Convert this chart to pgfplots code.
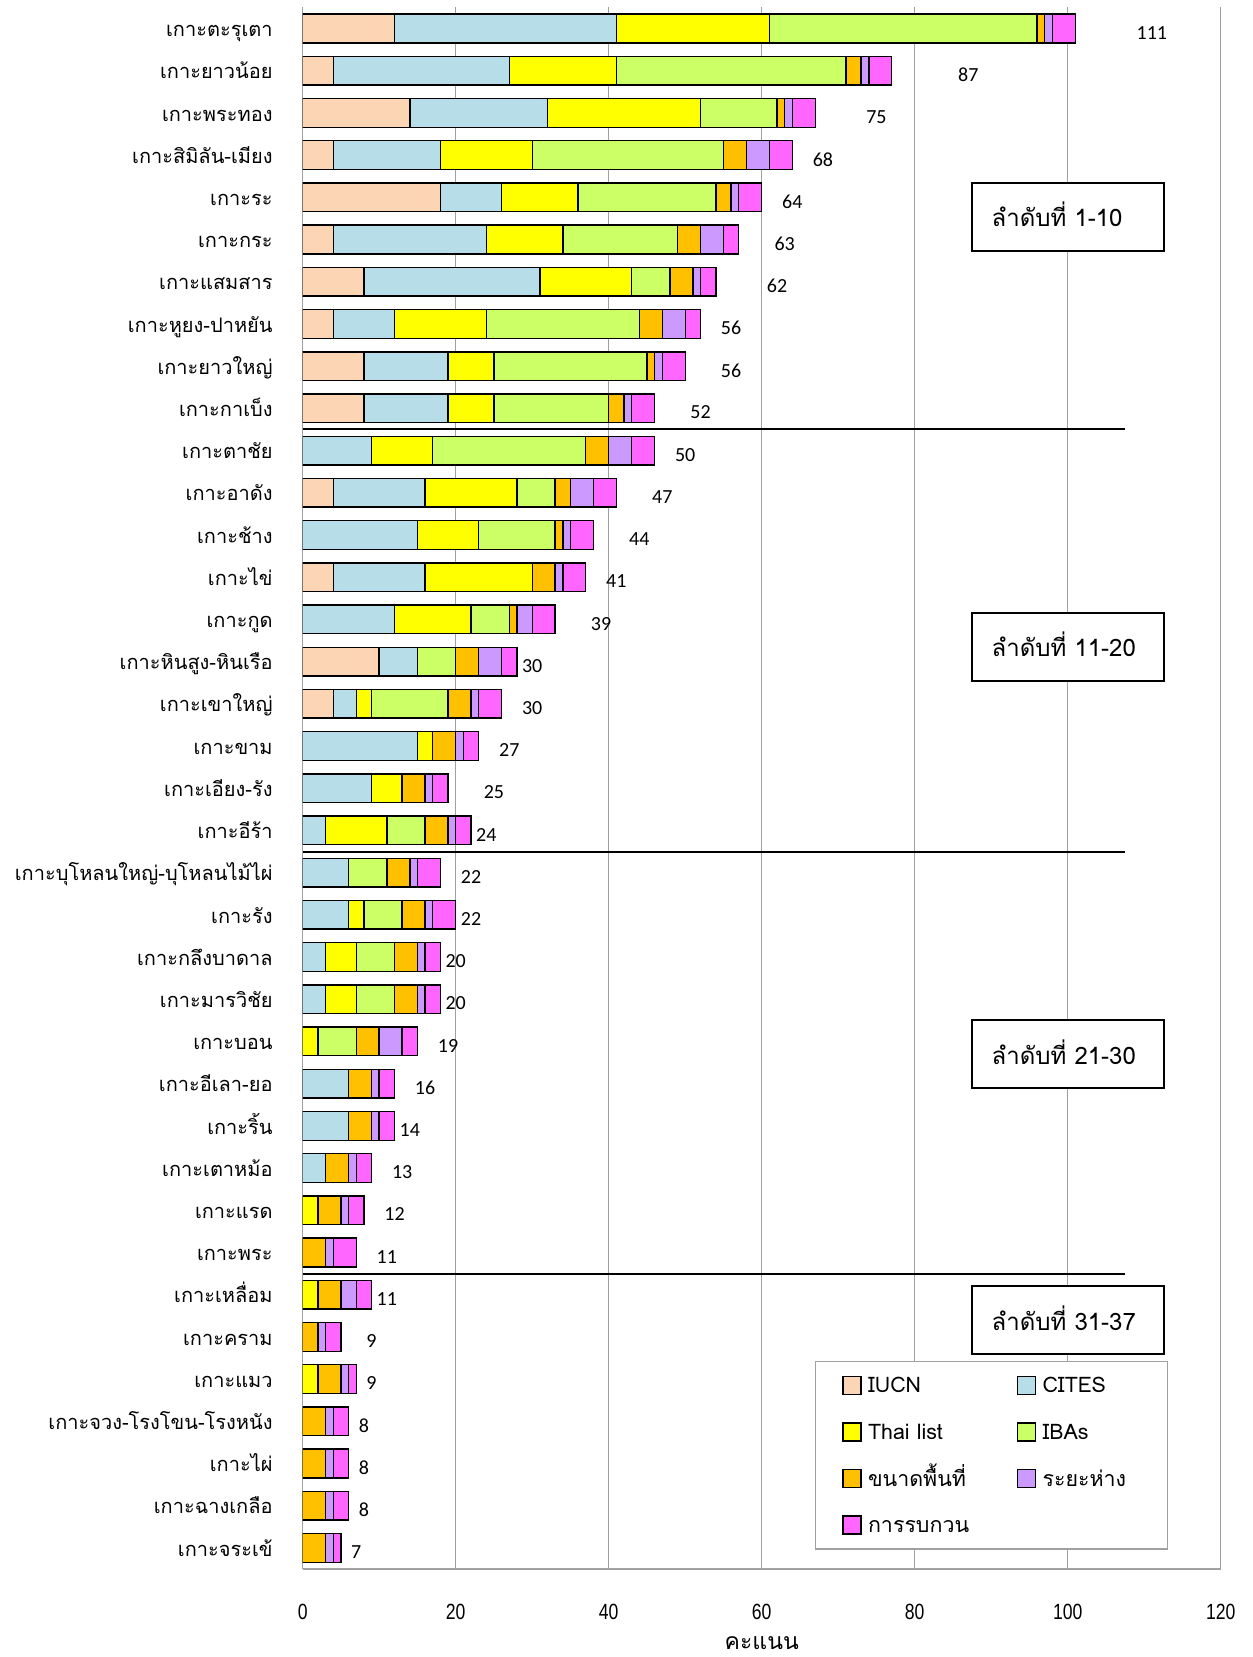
\documentclass[border=0pt]{standalone}
\usepackage{fontspec}
\setmainfont{Loma}[Script=Thai]
\newfontfamily\labfont{Carlito}
\newfontfamily\tickfont[FakeStretch=0.8]{Liberation Sans}
\usepackage{pgfplots}
\pgfplotsset{compat=1.18}
\usepackage{pgfplotstable}
\definecolor{cIUCN}{HTML}{FCD5B5}
\definecolor{cCITES}{HTML}{B7DEE8}
\definecolor{cThai}{HTML}{FFFF00}
\definecolor{cIBA}{HTML}{CCFF66}
\definecolor{cSize}{HTML}{FFC000}
\definecolor{cDist}{HTML}{CC99FF}
\definecolor{cDis}{HTML}{FF66FF}
\definecolor{gridc}{HTML}{A0A0A0}

\pgfplotstableread{
idx a b c d e f g lab
0 12 29 20 35 1 1 3 111
1 4 23 14 30 2 1 3 87
2 14 18 20 10 1 1 3 75
3 4 14 12 25 3 3 3 68
4 18 8 10 18 2 1 3 64
5 4 20 10 15 3 3 2 63
6 8 23 12 5 3 1 2 62
7 4 8 12 20 3 3 2 56
8 8 11 6 20 1 1 3 56
9 8 11 6 15 2 1 3 52
10 0 9 8 20 3 3 3 50
11 4 12 12 5 2 3 3 47
12 0 15 8 10 1 1 3 44
13 4 12 14 0 3 1 3 41
14 0 12 10 5 1 2 3 39
15 10 5 0 5 3 3 2 30
16 4 3 2 10 3 1 3 30
17 0 15 2 0 3 1 2 27
18 0 9 4 0 3 1 2 25
19 0 3 8 5 3 1 2 24
20 0 6 0 5 3 1 3 22
21 0 6 2 5 3 1 3 22
22 0 3 4 5 3 1 2 20
23 0 3 4 5 3 1 2 20
24 0 0 2 5 3 3 2 19
25 0 6 0 0 3 1 2 16
26 0 6 0 0 3 1 2 14
27 0 3 0 0 3 1 2 13
28 0 0 2 0 3 1 2 12
29 0 0 0 0 3 1 3 11
30 0 0 2 0 3 2 2 11
31 0 0 0 0 2 1 2 9
32 0 0 2 0 3 1 1 9
33 0 0 0 0 3 1 2 8
34 0 0 0 0 3 1 2 8
35 0 0 0 0 3 1 2 8
36 0 0 0 0 3 1 1 7
}\datatable

\begin{document}
\begin{tikzpicture}
\pgfplotsset{common/.style={scale only axis, width=459pt, height=780.8pt,
  xmin=0, xmax=120, ymin=-0.5, ymax=36.5, y dir=reverse}}
\begin{axis}[common, name=main,
  xbar stacked, bar width=14.35pt,
  axis x line*=bottom, axis y line*=left,
  axis line style={gridc, line width=0.65pt},
  xmajorgrids, grid style={gridc, line width=0.65pt},
  major tick length=0pt,
  xtick={0,20,...,120}, xticklabels={0,20,40,60,80,100,120},
  xticklabel style={font=\tickfont\fontsize{11}{13}\selectfont, anchor=center, yshift=-21.3pt},
  ytick={0,...,36},
  yticklabels={เกาะตะรุเตา,เกาะยาวน้อย,เกาะพระทอง,เกาะสิมิลัน-เมียง,เกาะระ,เกาะกระ,เกาะแสมสาร,เกาะหูยง-ปาหยัน,เกาะยาวใหญ่,เกาะกาเบ็ง,เกาะตาชัย,เกาะอาดัง,เกาะช้าง,เกาะไข่,เกาะกูด,เกาะหินสูง-หินเรือ,เกาะเขาใหญ่,เกาะขาม,เกาะเอียง-รัง,เกาะอีร้า,เกาะบุโหลนใหญ่-บุโหลนไม้ไผ่,เกาะรัง,เกาะกลึงบาดาล,เกาะมารวิชัย,เกาะบอน,เกาะอีเลา-ยอ,เกาะริ้น,เกาะเตาหม้อ,เกาะแรด,เกาะพระ,เกาะเหลื่อม,เกาะคราม,เกาะแมว,เกาะจวง-โรงโขน-โรงหนัง,เกาะไผ่,เกาะฉางเกลือ,เกาะจระเข้},
  yticklabel style={font=\fontsize{10}{12}\selectfont, anchor=east, inner sep=0pt, text height=7.5pt, text depth=2.5pt, xshift=-14.85pt, yshift=-1.6pt},
  xlabel={คะแนน},
  xlabel style={font=\fontsize{11.5}{13}\selectfont, at={(axis description cs:0.5,0)}, anchor=center, yshift=-37pt},
  legend columns=2,
  legend cell align=left,
  legend image code/.code={\draw[#1] (0pt,-4.5pt) rectangle (9pt,4.5pt);},
  legend style={at={(0.5576,0.0123)}, anchor=south west, draw=gridc, line width=0.75pt, fill=white,
    inner xsep=13.5pt, inner ysep=5pt,
    font=\fontsize{10.7}{13}\selectfont,
    nodes={text width=47.5pt, inner sep=1.5pt, text height=9.3pt, text depth=1.7pt},
    row sep=9.3pt, column sep=1.65pt,
    /tikz/column 2/.style={column sep=25.4pt}},
]
\addplot[fill=cIUCN, draw=black, line width=0.7pt] table[x=a, y=idx]{\datatable};
\addplot[fill=cCITES, draw=black, line width=0.7pt] table[x=b, y=idx]{\datatable};
\addplot[fill=cThai, draw=black, line width=0.7pt] table[x=c, y=idx]{\datatable};
\addplot[fill=cIBA, draw=black, line width=0.7pt] table[x=d, y=idx]{\datatable};
\addplot[fill=cSize, draw=black, line width=0.7pt] table[x=e, y=idx]{\datatable};
\addplot[fill=cDist, draw=black, line width=0.7pt] table[x=f, y=idx]{\datatable};
\addplot[fill=cDis, draw=black, line width=0.7pt] table[x=g, y=idx]{\datatable};
\legend{IUCN, CITES, Thai list, IBAs, ขนาดพื้นที่, ระยะห่าง, การรบกวน}
\end{axis}
\begin{axis}[common, hide axis]
\addplot[draw=none, mark=none, nodes near coords, point meta=explicit symbolic,
  nodes near coords style={font=\labfont\fontsize{10}{12}\selectfont, anchor=center, yshift=-2.1pt}]
  table[x=lab, y=idx, meta=lab]{\datatable};
\addplot[black, line width=1pt] coordinates {(0,9.5) (107.5,9.5)};
\addplot[black, line width=1pt] coordinates {(0,19.5) (107.5,19.5)};
\addplot[black, line width=1pt] coordinates {(0,29.5) (107.5,29.5)};
\tikzset{rankbox/.style={draw=black, line width=1pt, fill=white, minimum height=33.8pt,
  text width=76pt, align=left, inner xsep=10pt, inner ysep=0pt, text height=10.5pt, text depth=0.5pt,
  font=\fontsize{12}{14}\selectfont}}
\node[rankbox] at (axis cs:100,4.46) {ลำดับที่ 1-10};
\node[rankbox] at (axis cs:100,14.65) {ลำดับที่ 11-20};
\node[rankbox] at (axis cs:100,24.3) {ลำดับที่ 21-30};
\node[rankbox] at (axis cs:100,30.6) {ลำดับที่ 31-37};
\end{axis}
\pgfresetboundingbox
\path ([xshift=-151.35pt,yshift=-44pt]main.south west) rectangle ([xshift=15.65pt,yshift=3.7pt]main.north east);
\end{tikzpicture}
\end{document}
